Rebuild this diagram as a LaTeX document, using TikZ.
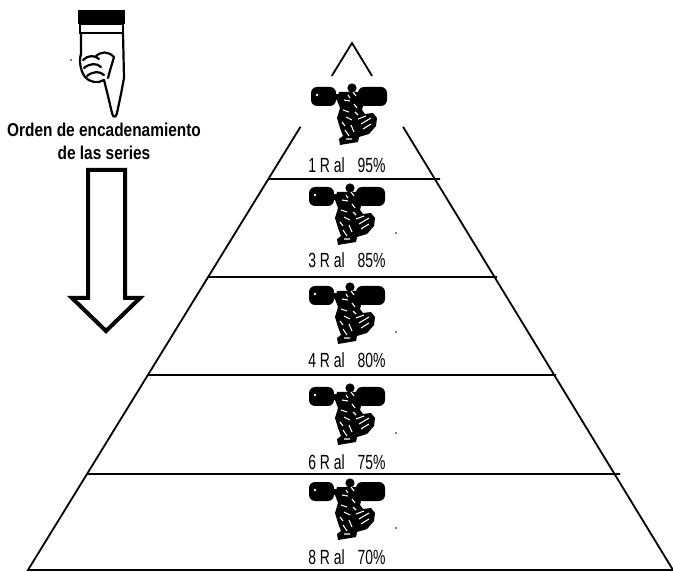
\documentclass[tikz,border=0pt]{standalone}
\usepackage{fontspec}
\usetikzlibrary{calc}
\newfontfamily\headfont[FakeStretch=0.83]{Liberation Sans Bold}
\newfontfamily\labelfont[FakeStretch=0.68]{Liberation Sans}

\tikzset{
  pyrline/.style={line width=1.8pt},
  hollowarrow/.style={line width=4pt, line join=miter, fill=white},
  handline/.style={line width=2.2pt, line join=round, line cap=round},
  tierlabel/.style={font=\labelfont\fontsize{20.5}{20.5}\selectfont, inner sep=0pt, anchor=base},
  headtext/.style={font=\headfont\fontsize{18.6}{18.6}\selectfont, inner sep=0pt, anchor=base},
  % clip-art weightlifter, origin at the middle of the bar
  lifter/.pic={
    \fill[rounded corners=6pt] (-38,-9) rectangle (-13,10);
    \fill[rounded corners=6pt] (9,-9) rectangle (38,10);
    \fill (-14,-2) rectangle (10,4);
    \fill (3,-8) circle (4.6);
    \fill (-10,-4) -- (12,-4) -- (15,6) -- (13,14) -- (16,18) -- (24,17) -- (28,22)
      -- (27,30) -- (20,38) -- (10,41) -- (9,46) -- (-9,49) -- (-10,43) -- (-6,40)
      -- (-9,32) -- (-12,22) -- (-9,12) -- (-12,4) -- cycle;
    \draw[white, line width=1.1pt]
      (-5,4) -- (1,5) (5,8) -- (8,12) (-6,14) -- (0,16) (-3,21) -- (3,24)
      (9,23) -- (17,20) (12,28) -- (22,22) (14,33) -- (22,28)
      (2,29) -- (5,36) (-4,34) -- (0,40) (-7,26) -- (-4,30)
      (4,-4) -- (7,0) (-1,-1) -- (1,2) (6,16) -- (9,19) (-3,43) -- (3,43);
    \fill[white] (-32,-1) circle (1.4);
  },
  speck/.pic={\fill (0,0) circle (0.9);}
}

\begin{document}
\begin{tikzpicture}[x=1pt, y=-1pt]
\useasboundingbox (0,0) rectangle (673,572);

% ---------- pyramid outline ----------
\coordinate (apex) at (352,43);
\coordinate (bl) at (28,570);
\coordinate (br) at (673,570);
\draw[pyrline] ($(apex)!0.0626!(bl)$) -- (apex) -- ($(apex)!0.0626!(br)$);
\draw[pyrline] ($(apex)!0.159!(bl)$) -- (bl) -- (br) -- ($(apex)!0.159!(br)$);

% tier dividers
\draw[pyrline] ($(apex)!0.258!(bl)$) -- (440,179);
\draw[pyrline] ($(apex)!0.444!(bl)$) -- (497,277);
\draw[pyrline] ($(apex)!0.630!(bl)$) -- (556,375);
\draw[pyrline] ($(apex)!0.818!(bl)$) -- (620,474);

% ---------- tiers: figure and load ----------
\pic at (349,96) {lifter};
\node[tierlabel] (t1) at (347,173) {1 R al\hspace{13pt}95\%};

\pic at (347,196) {lifter};
\pic at (396,233) {speck};
\node[tierlabel] (t2) at (347,268) {3 R al\hspace{13pt}85\%};

\pic at (347,295) {lifter};
\pic at (396,332) {speck};
\node[tierlabel] (t3) at (347,368) {4 R al\hspace{13pt}80\%};

\pic at (347,396) {lifter};
\pic at (396,433) {speck};
\node[tierlabel] (t4) at (347,469) {6 R al\hspace{13pt}75\%};

\pic at (347,491) {lifter};
\pic at (396,528) {speck};
\node[tierlabel] (t5) at (347,564) {8 R al\hspace{13pt}70\%};

% ---------- pointing hand ----------
\fill (78,10) rectangle (125,24);
\draw[line width=2pt] (80,24) rectangle (123,33);
\draw[handline] (81,33) -- (81,54) .. controls (79,60) and (80,70) .. (85,77)
  .. controls (89,82) and (98,84) .. (104,80) -- (108,96) -- (112,113)
  .. controls (113,118) and (116,118) .. (117,113) -- (121,94) -- (124,78) -- (123,33);
\draw[handline] (83,60) .. controls (88,55) and (95,55) .. (99,59)
  (84,68) .. controls (90,63) and (97,63) .. (101,67)
  (87,76) .. controls (93,71) and (100,71) .. (104,75)
  (95,57) .. controls (101,51) and (108,51) .. (114,57)
  (114,57) .. controls (112,64) and (110,70) .. (108,78);
\fill (71,60) circle (0.9);

\node[headtext] (h1) at (104,137) {Orden de encadenamiento};
\node[headtext] (h2) at (104,160) {de las series};

% ---------- hollow down arrow ----------
\draw[hollowarrow] (88,170) -- (125,170) -- (125,298) -- (140,298) -- (106,331)
  -- (72,298) -- (88,298) -- cycle;
\end{tikzpicture}
\end{document}
